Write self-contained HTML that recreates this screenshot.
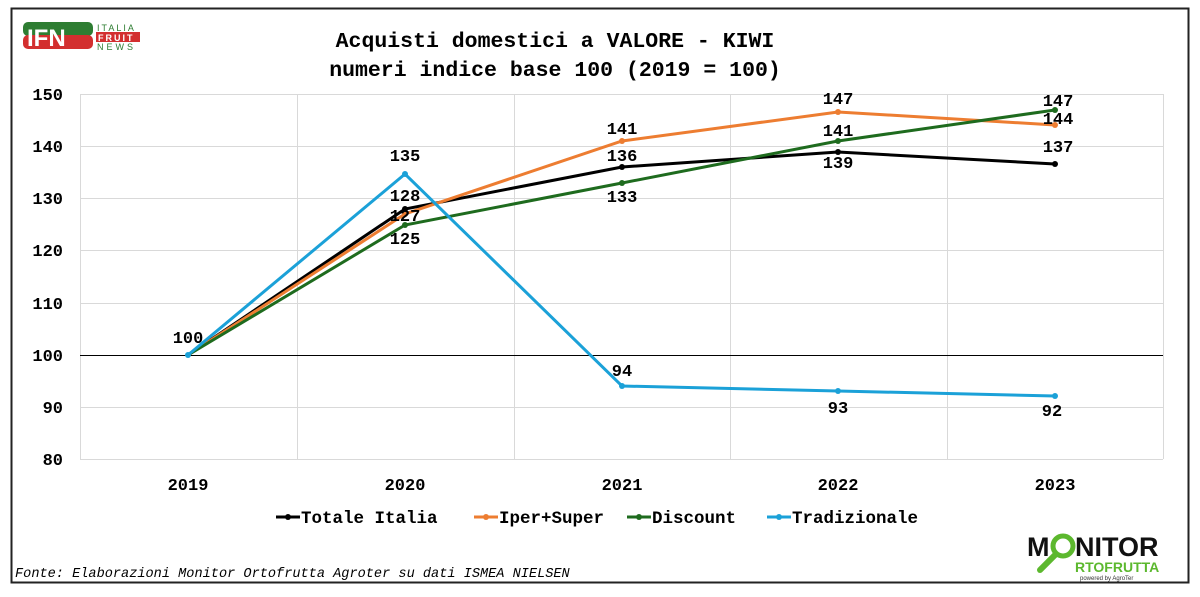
<!DOCTYPE html>
<html><head><meta charset="utf-8"><style>
body{margin:0;background:#fff}
svg text{font-family:"Liberation Mono","DejaVu Sans Mono",monospace;font-weight:bold}
</style></head><body>
<svg width="1200" height="592" viewBox="0 0 1200 592" xmlns="http://www.w3.org/2000/svg">
<rect x="0" y="0" width="1200" height="592" fill="#fff"/>
<rect x="11.5" y="8.5" width="1177" height="574" fill="none" stroke="#222" stroke-width="2"/>
<!-- IFN logo -->
<rect x="23" y="22" width="70" height="14" rx="5" fill="#2e7d32"/>
<rect x="23" y="35" width="70" height="14" rx="5" fill="#d32f2f"/>
<text x="27" y="46" font-size="24" fill="#fff" style="font-family:'Liberation Sans',sans-serif;font-weight:900">IFN</text>
<text x="97" y="31" style="font-family:'Liberation Sans',sans-serif;font-weight:normal" font-size="9" fill="#2e7d32" letter-spacing="2">ITALIA</text>
<rect x="96" y="32" width="44" height="10" fill="#d32f2f"/>
<text x="98" y="41" style="font-family:'Liberation Sans',sans-serif" font-size="9" fill="#fff" letter-spacing="2">FRUIT</text>
<text x="97" y="50" style="font-family:'Liberation Sans',sans-serif;font-weight:normal" font-size="9" fill="#2e7d32" letter-spacing="3">NEWS</text>
<!-- title -->
<text x="555" y="47" font-size="21.5" text-anchor="middle" fill="#000">Acquisti domestici a VALORE - KIWI</text>
<text x="555" y="76" font-size="21.5" text-anchor="middle" fill="#000">numeri indice base 100 (2019 = 100)</text>
<!-- grid -->
<g stroke="#d9d9d9" stroke-width="1">
<line x1="80" y1="94.5" x2="1163" y2="94.5"/>
<line x1="80" y1="146.5" x2="1163" y2="146.5"/>
<line x1="80" y1="198.5" x2="1163" y2="198.5"/>
<line x1="80" y1="250.5" x2="1163" y2="250.5"/>
<line x1="80" y1="303.5" x2="1163" y2="303.5"/>
<line x1="80" y1="407.5" x2="1163" y2="407.5"/>
<line x1="80" y1="459.5" x2="1163" y2="459.5"/>
<line x1="80.5" y1="94" x2="80.5" y2="459"/>
<line x1="297.5" y1="94" x2="297.5" y2="459"/>
<line x1="514.5" y1="94" x2="514.5" y2="459"/>
<line x1="730.5" y1="94" x2="730.5" y2="459"/>
<line x1="947.5" y1="94" x2="947.5" y2="459"/>
<line x1="1163.5" y1="94" x2="1163.5" y2="459"/>
</g>
<line x1="80" y1="355.5" x2="1163" y2="355.5" stroke="#000" stroke-width="1"/>
<!-- y labels -->
<g font-size="17" text-anchor="end" fill="#000">
<text x="63" y="100">150</text><text x="63" y="152">140</text><text x="63" y="204">130</text>
<text x="63" y="256">120</text><text x="63" y="309">110</text><text x="63" y="361">100</text>
<text x="63" y="413">90</text><text x="63" y="465">80</text>
</g>
<g font-size="17" text-anchor="middle" fill="#000">
<text x="188" y="490">2019</text><text x="405" y="490">2020</text><text x="622" y="490">2021</text>
<text x="838" y="490">2022</text><text x="1055" y="490">2023</text>
</g>
<!-- series -->
<g fill="none" stroke-width="3">
<polyline stroke="#000" points="188,355 405,209 622,167 838,152 1055,164"/>
<polyline stroke="#ed7d31" points="188,355 405,214 622,141 838,112 1055,125"/>
<polyline stroke="#1e6b1e" points="188,355 405,225 622,183 838,141 1055,110"/>
<polyline stroke="#1ba1d8" points="188,355 405,174 622,386 838,391 1055,396"/>
</g>
<g fill="#000"><circle cx="405" cy="209" r="3"/><circle cx="622" cy="167" r="3"/><circle cx="838" cy="152" r="3"/><circle cx="1055" cy="164" r="3"/></g>
<g fill="#ed7d31"><circle cx="405" cy="214" r="3"/><circle cx="622" cy="141" r="3"/><circle cx="838" cy="112" r="3"/><circle cx="1055" cy="125" r="3"/></g>
<g fill="#1e6b1e"><circle cx="405" cy="225" r="3"/><circle cx="622" cy="183" r="3"/><circle cx="838" cy="141" r="3"/><circle cx="1055" cy="110" r="3"/></g>
<g fill="#1ba1d8"><circle cx="188" cy="355" r="3"/><circle cx="405" cy="174" r="3"/><circle cx="622" cy="386" r="3"/><circle cx="838" cy="391" r="3"/><circle cx="1055" cy="396" r="3"/></g>
<!-- data labels -->
<g font-size="17" text-anchor="middle" fill="#000">
<text x="188" y="343">100</text>
<text x="405" y="161">135</text><text x="405" y="201">128</text><text x="405" y="221">127</text><text x="405" y="244">125</text>
<text x="622" y="134">141</text><text x="622" y="161">136</text><text x="622" y="202">133</text><text x="622" y="376">94</text>
<text x="838" y="104">147</text><text x="838" y="136">141</text><text x="838" y="168">139</text><text x="838" y="413">93</text>
<text x="1058" y="106">147</text><text x="1058" y="124">144</text><text x="1058" y="152">137</text><text x="1052" y="416">92</text>
</g>
<!-- legend -->
<g stroke-width="3">
<line x1="276" y1="517" x2="300" y2="517" stroke="#000"/><circle cx="288" cy="517" r="3" fill="#000"/>
<line x1="474" y1="517" x2="498" y2="517" stroke="#ed7d31"/><circle cx="486" cy="517" r="3" fill="#ed7d31"/>
<line x1="627" y1="517" x2="651" y2="517" stroke="#1e6b1e"/><circle cx="639" cy="517" r="3" fill="#1e6b1e"/>
<line x1="767" y1="517" x2="791" y2="517" stroke="#1ba1d8"/><circle cx="779" cy="517" r="3" fill="#1ba1d8"/>
</g>
<g font-size="17.5" fill="#000">
<text x="301" y="523">Totale Italia</text>
<text x="499" y="523">Iper+Super</text>
<text x="652" y="523">Discount</text>
<text x="792" y="523">Tradizionale</text>
</g>
<text x="15" y="577" font-size="13.6" style="font-style:italic;font-weight:normal" fill="#000">Fonte: Elaborazioni Monitor Ortofrutta Agroter su dati ISMEA NIELSEN</text>
<!-- monitor logo -->
<text x="1027" y="556" style="font-family:'Liberation Sans',sans-serif;font-weight:900" font-size="27" fill="#111">M</text>
<circle cx="1063" cy="546" r="10" fill="none" stroke="#5cb82e" stroke-width="5"/>
<line x1="1055" y1="555" x2="1040" y2="570" stroke="#5cb82e" stroke-width="6" stroke-linecap="round"/>
<text x="1075" y="556" style="font-family:'Liberation Sans',sans-serif;font-weight:900" font-size="27" fill="#111">NITOR</text>
<text x="1075" y="572" style="font-family:'Liberation Sans',sans-serif;font-weight:900" font-size="14" fill="#5cb82e">RTOFRUTTA</text>
<text x="1080" y="580" style="font-family:'Liberation Sans',sans-serif;font-weight:normal" font-size="6" fill="#333">powered by AgroTer</text>
</svg>
</body></html>
